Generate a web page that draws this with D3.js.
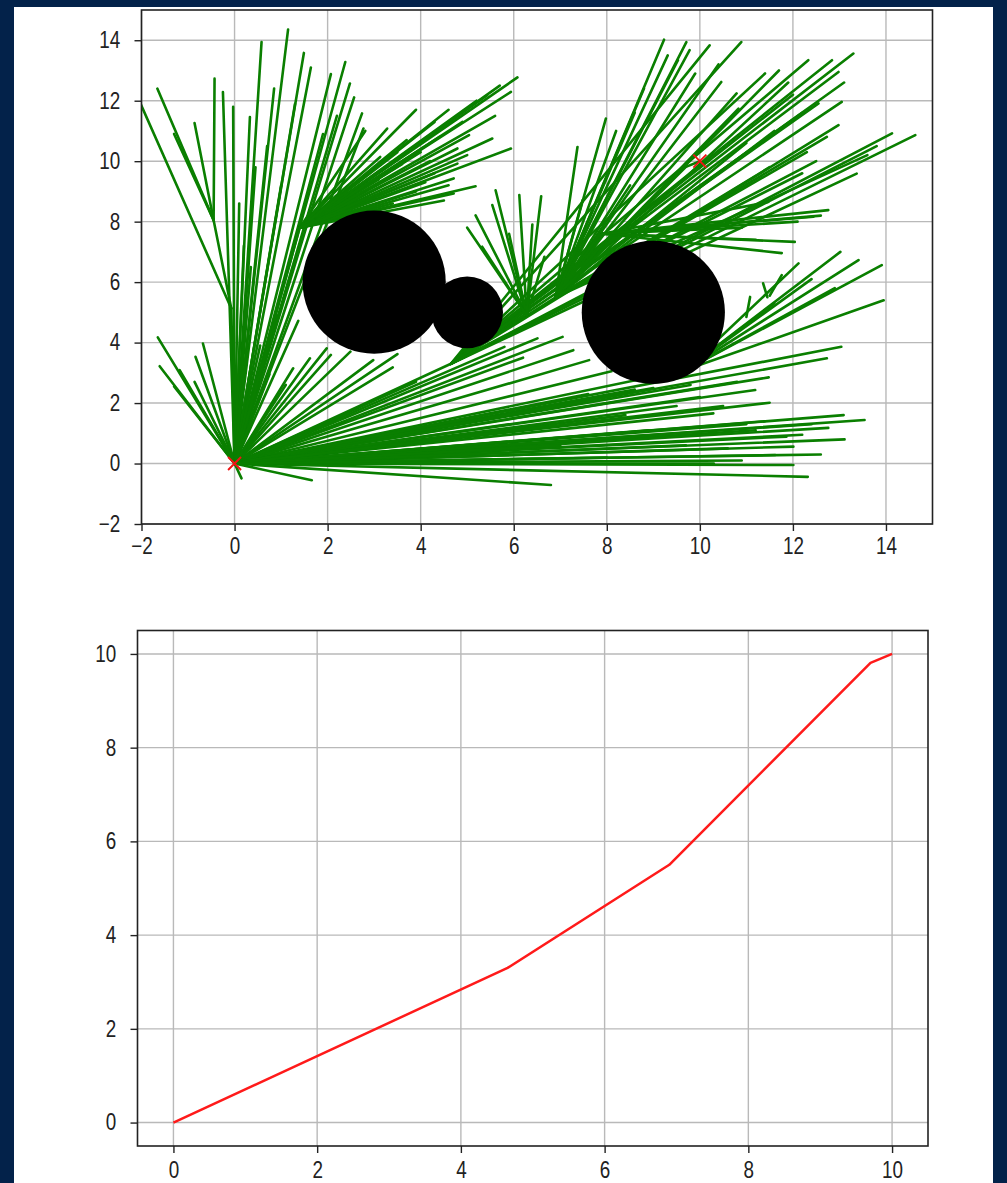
<!DOCTYPE html>
<html><head><meta charset="utf-8">
<script src="https://cdn.jsdelivr.net/npm/d3@7"></script>
<style>
html,body{margin:0;padding:0;background:#03224a;}
svg{display:block}
</style></head><body>
<svg id="chart" width="1007" height="1183"></svg>
<script>
// ---- planner scene ----
const startPt = [0, 0];
const goalPt = [10, 10];
const obstacleX = [3, 5, 9];
const obstacleY = [6, 5, 5];
const obstacleSize = [2, 1, 2];

// tree nodes that many edges fan out from
const hubX = [0, -0.07, -0.45, 1.40, 4.65, 6.28, 6.90, 7.90, 9.70, 9.70];
const hubY = [0, 5.13, 8.05, 7.80, 3.30, 4.90, 5.50, 7.60, 3.10, 9.81];

// child endpoints of each hub (hub index 0..9 in the same order)
const fromStart = [
  [-0.07,5.13],[1.40,7.80],[4.65,3.30],[9.70,3.10],
  [-1.65,4.17],[-1.61,3.22],[-1.18,3.09],[-0.84,3.53],[-0.68,3.97],[-0.86,2.70],[-1.30,2.55],
  [0.15,-0.49],[1.66,-0.55],[6.80,-0.71],
  [-0.25,12.29],[-0.03,11.80],[0.33,11.46],[0.58,13.94],[0.85,12.40],[1.15,14.35],[1.30,11.90],
  [1.49,13.58],[1.64,13.10],[2.07,12.88],[2.38,13.28],[2.48,12.57],[2.57,12.11],[2.74,11.58],
  [2.77,11.08],[0.10,8.60],[0.45,9.80],[0.20,7.20],[0.35,6.50],[0.70,10.50],[1.90,10.90],
  [2.20,11.50],[1.00,9.20],
  [0.55,3.90],[0.90,4.91],[1.37,4.72],[1.26,3.15],[1.62,3.48],[1.98,3.81],[2.07,3.59],[2.49,3.70],
  [2.98,3.42],[1.10,2.60],[0.75,2.95],[3.50,3.62],[3.40,3.18],[3.90,2.70],
  [5.80,3.86],[6.20,3.50],[6.51,4.14],[7.05,4.19],[7.28,3.75],[7.62,3.42],[8.10,3.05],[8.60,2.45],
  [7.60,2.30],[8.40,1.60],[9.00,2.50],[9.20,0.90],[9.50,1.90],[9.80,2.60],[10.00,2.20],[10.29,1.66],
  [10.30,0.00],[10.60,0.50],[10.80,2.70],[11.00,1.30],[11.19,2.43],[11.20,1.10],[11.40,1.40],
  [11.48,2.85],[11.50,2.01],[11.62,0.28],[11.86,0.89],[12.01,0.56],[12.01,-0.05],[12.32,-0.44],
  [12.73,3.48],[12.76,1.18],[13.04,3.86],[13.09,1.60],[13.11,0.80],[13.54,1.44],[12.20,0.95],[12.40,1.30],
  [9.70,0.60],[10.90,0.10],[8.90,1.10],[12.60,0.30],[10.50,1.90],[7.00,0.60],[8.00,0.20]
];
const fromLeftLow = [[-0.45,8.05],[-2.05,12.00]];
const fromLeftHigh = [[-1.66,12.40],[-0.86,11.26],[-0.43,12.73],[-1.30,10.90]];
const fromUpperLeft = [
  [6.08,12.77],[5.94,12.29],[5.43,12.18],[5.54,10.75],[5.94,10.42],[5.04,10.86],[5.18,9.17],
  [4.71,8.93],[4.71,9.43],[4.79,9.92],[4.79,10.42],[3.28,11.08],[2.81,11.00],[3.13,10.14],
  [4.30,11.30],[4.60,11.70],[4.00,10.30],[4.30,9.60],[3.90,9.00],[4.50,8.70],[3.60,9.90],
  [5.20,12.00],[3.70,10.70],[4.20,10.00],[3.40,8.60],[3.10,9.40],
  [4.90,11.30],[5.60,11.50],[3.90,11.70],[4.40,10.80],[5.00,10.20],[4.60,9.20],[5.70,12.50],
  [3.50,10.30],[4.10,9.30]
];
const fromPathA = [
  [6.28,4.90],[6.90,5.50],
  [13.30,13.56],[12.84,13.34],[12.33,13.34],[12.98,12.95],[13.05,11.96],[12.55,11.91],
  [10.89,13.94],[10.21,13.83],[14.13,10.92],[14.63,10.86],[12.98,11.19],[13.37,9.59],
  [11.40,12.90],[12.00,12.20],[13.10,12.60],[12.20,11.60],[13.80,10.50]
];
const fromSmallBroom = [
  [5.18,8.21],[5.32,7.17],[5.61,9.04],[5.54,8.55],[6.12,8.88],[6.59,8.84],[6.66,6.84],
  [5.90,7.60],[6.40,7.90],[5.00,7.80]
];
const fromPathB = [
  [7.90,7.60],[9.70,9.81],
  [7.37,10.47],[7.98,11.41],[8.20,11.00],[7.48,8.71],[8.50,9.20],[9.23,14.02],[9.31,13.50],
  [9.53,13.34],[9.71,13.94],[9.78,13.67],[10.46,12.62],[10.79,12.24],[10.83,11.74],
  [12.73,10.80],[12.30,10.30],[11.60,11.00],[11.00,10.60],[13.60,10.20],[8.80,12.40],
  [8.60,11.60],[11.90,12.60],[12.20,9.60],[11.70,13.00],[9.90,12.90],[10.40,13.20],
  [12.50,10.00],[11.50,9.80]
];
const fromRightMid = [
  [12.76,8.38],[12.44,8.16],[12.04,7.33],[11.47,8.65],[11.76,6.96],[10.90,7.80],[11.20,7.40],
  [12.10,8.00],[10.60,7.90],[12.60,8.20]
];
const fromRightLow = [
  [12.12,6.62],[13.41,6.73],[13.91,6.56],[13.95,5.40],[13.02,7.00],[12.40,6.10],[11.60,5.30],[12.90,5.80]
];
const fromNearGoal = [[10.00,10.00]];
const fanByHub = [fromStart, fromLeftLow, fromLeftHigh, fromUpperLeft, fromPathA,
                  fromSmallBroom, fromPathB, fromRightMid, fromRightLow, fromNearGoal];
// short side branches
const twigs = [[11.00,4.85,11.08,5.51],[11.45,5.50,11.36,5.96],[11.50,5.55,11.76,6.23]];

// ---- final path ----
const pathX = [0, 4.65, 6.90, 9.70, 10];
const pathY = [0, 3.30, 5.50, 9.81, 10];

// ---- tick labels ----
const topTicks = [-2, 0, 2, 4, 6, 8, 10, 12, 14];
const bottomTicks = [0, 2, 4, 6, 8, 10];

const svg = d3.select("#chart");
svg.append("rect").attr("x", 14).attr("y", 7).attr("width", 979).attr("height", 1176).attr("fill", "#ffffff");

const GREEN = "#0a7f00";
const GRID = "#b9b9b9";
const INK = "#222222";

function styleAxis(g) {
  g.select(".domain").remove();
  g.selectAll(".tick line").attr("stroke", INK).attr("stroke-width", 1.4);
  g.selectAll(".tick text")
    .attr("fill", INK)
    .style("font-family", "'Liberation Sans', Arial, sans-serif")
    .style("font-size", "23px")
    .attr("transform", "scale(0.82,1)");
}

// ================= top panel: tree =================
const x = d3.scaleLinear().domain([-2, 15]).range([141.5, 932.5]);
const y = d3.scaleLinear().domain([-2, 15]).range([524, 10]);
const rScale = d3.scaleLinear().domain([0, 1]).range([0, 35.8]);

svg.append("clipPath").attr("id", "clipTop")
  .append("rect").attr("x", 141.5).attr("y", 10).attr("width", 791).attr("height", 514);

const gTop = svg.append("g");
const gridTop = gTop.append("g");
gridTop.selectAll("line.vx").data(topTicks).join("line")
  .attr("x1", d => x(d)).attr("x2", d => x(d)).attr("y1", 10).attr("y2", 524)
  .attr("stroke", GRID).attr("stroke-width", 1.4);
gridTop.selectAll("line.hy").data(topTicks).join("line")
  .attr("y1", d => y(d)).attr("y2", d => y(d)).attr("x1", 141.5).attr("x2", 932.5)
  .attr("stroke", GRID).attr("stroke-width", 1.4);

const edges = [];
fanByHub.forEach((fan, i) => fan.forEach(p => edges.push([hubX[i], hubY[i], p[0], p[1]])));
twigs.forEach(t => edges.push(t));

const plotTop = gTop.append("g").attr("clip-path", "url(#clipTop)");
plotTop.selectAll("line.edge").data(edges).join("line")
  .attr("x1", d => x(d[0])).attr("y1", d => y(d[1]))
  .attr("x2", d => x(d[2])).attr("y2", d => y(d[3]))
  .attr("stroke", GREEN).attr("stroke-width", 2.6).attr("stroke-linecap", "round");

plotTop.selectAll("circle.obs").data(obstacleX).join("circle")
  .attr("cx", (d, i) => x(d)).attr("cy", (d, i) => y(obstacleY[i]))
  .attr("r", (d, i) => rScale(obstacleSize[i])).attr("fill", "#000");

[startPt, goalPt].forEach(p => {
  const cx = x(p[0]), cy = y(p[1]), h = 6.5;
  plotTop.append("path")
    .attr("d", `M${cx - h},${cy - h}L${cx + h},${cy + h}M${cx - h},${cy + h}L${cx + h},${cy - h}`)
    .attr("stroke", "#f01414").attr("stroke-width", 1.9).attr("fill", "none");
});

gTop.append("g").attr("transform", "translate(0,524)")
  .call(d3.axisBottom(x).tickValues(topTicks).tickSize(7).tickPadding(7).tickSizeOuter(0))
  .call(styleAxis);
gTop.append("g").attr("transform", "translate(141.5,0)")
  .call(d3.axisLeft(y).tickValues(topTicks).tickSize(7).tickPadding(19).tickSizeOuter(0))
  .call(styleAxis);
gTop.append("rect").attr("x", 141.5).attr("y", 10).attr("width", 791).attr("height", 514)
  .attr("fill", "none").attr("stroke", INK).attr("stroke-width", 1.6);

// ================= bottom panel: path =================
const x2 = d3.scaleLinear().domain([-0.5, 10.5]).range([137.5, 928]);
const y2 = d3.scaleLinear().domain([-0.5, 10.5]).range([1146, 630.5]);

const gBot = svg.append("g");
gBot.selectAll("line.vx").data(bottomTicks).join("line")
  .attr("x1", d => x2(d)).attr("x2", d => x2(d)).attr("y1", 630.5).attr("y2", 1146)
  .attr("stroke", GRID).attr("stroke-width", 1.4);
gBot.selectAll("line.hy").data(bottomTicks).join("line")
  .attr("y1", d => y2(d)).attr("y2", d => y2(d)).attr("x1", 137.5).attr("x2", 928)
  .attr("stroke", GRID).attr("stroke-width", 1.4);

const pathLine = d3.line().x(d => x2(d[0])).y(d => y2(d[1]));
gBot.append("path").datum(pathX.map((v, i) => [v, pathY[i]]))
  .attr("d", pathLine).attr("fill", "none").attr("stroke", "#ff1a1a").attr("stroke-width", 2.5)
  .attr("stroke-linejoin", "round");

gBot.append("g").attr("transform", "translate(0,1146)")
  .call(d3.axisBottom(x2).tickValues(bottomTicks).tickSize(7).tickPadding(9).tickSizeOuter(0))
  .call(styleAxis);
gBot.append("g").attr("transform", "translate(137.5,0)")
  .call(d3.axisLeft(y2).tickValues(bottomTicks).tickSize(7).tickPadding(19).tickSizeOuter(0))
  .call(styleAxis);
gBot.append("rect").attr("x", 137.5).attr("y", 630.5).attr("width", 790.5).attr("height", 515.5)
  .attr("fill", "none").attr("stroke", INK).attr("stroke-width", 1.6);
</script></body></html>
